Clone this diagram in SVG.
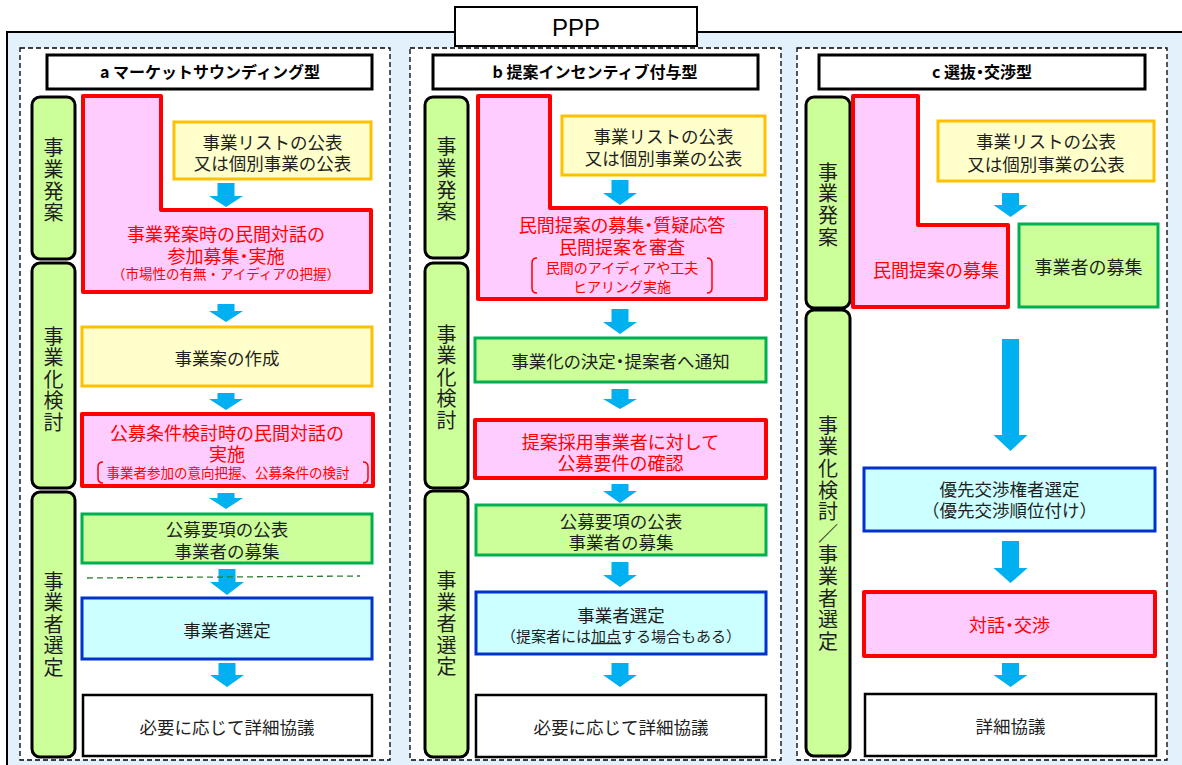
<svg xmlns="http://www.w3.org/2000/svg" width="1182" height="765" viewBox="0 0 1182 765">
<defs>
<style>
text{font-family:"Noto Sans CJK JP","Noto Sans CJK SC",sans-serif;text-anchor:middle;fill:#1f1f1f}
.t{font-size:17.5px}
.r{font-size:18px;fill:#ff0000}
.rs{font-size:13.5px;fill:#ff0000}
.rm{font-size:14px;fill:#ff0000}
.p{font-feature-settings:"palt"}
.ph{font-size:20px;writing-mode:vertical-rl;letter-spacing:1.6px}
.hd{font-size:16px;font-weight:700;fill:#000}
.panel{fill:#fff;stroke:#000;stroke-width:1.3;stroke-dasharray:5 3}
.phase{fill:#ccff99;stroke:#000;stroke-width:3}
.red{fill:#ffccff;stroke:#ff0000;stroke-width:4;stroke-linejoin:round}
.yel{fill:#ffffcc;stroke:#ffc000;stroke-width:3}
.grn{fill:#ccff99;stroke:#00b050;stroke-width:3}
.blu{fill:#ccffff;stroke:#0033cc;stroke-width:3}
.wht{fill:#fff;stroke:#000;stroke-width:2.5}
.hdr{fill:#fff;stroke:#000;stroke-width:3}
.brk{fill:none;stroke:#ff0000;stroke-width:1.5}
.arr{fill:#00b0f0}
</style>
</defs>
<rect x="7" y="32" width="1200" height="760" fill="#e2f1fc" stroke="#000" stroke-width="2"/>
<g id="ppp-title">
<rect x="455" y="7" width="242" height="39" fill="#fff" stroke="#000" stroke-width="2"/>
<text x="576" y="35.5" style="font-family:'Liberation Sans',Arial,sans-serif;font-size:24px;fill:#000">PPP</text>
</g>
<rect class="panel" x="20" y="48" width="370" height="712"/>
<rect class="panel" x="410" y="48" width="371" height="712"/>
<rect class="panel" x="797" y="48" width="370" height="712"/>

<g id="header-a"><rect class="hdr" x="47" y="55" width="325" height="34"/><text class="hd" x="210" y="78">a マーケットサウンディング型</text></g>
<g id="header-b"><rect class="hdr" x="433" y="55" width="325" height="34"/><text class="hd" x="595" y="78">b 提案インセンティブ付与型</text></g>
<g id="header-c"><rect class="hdr" x="819" y="55" width="326" height="34"/><text class="hd p" x="982" y="78">c 選抜・交渉型</text></g>

<!-- phase labels -->
<g id="phase-a1"><rect class="phase" x="32" y="97" width="43" height="162" rx="8"/>
<text class="ph" x="53.5" y="181">事業発案</text></g>
<g id="phase-a2"><rect class="phase" x="32" y="263" width="43" height="225" rx="8"/>
<text class="ph" x="53.5" y="380">事業化検討</text></g>
<g id="phase-a3"><rect class="phase" x="32" y="492" width="43" height="265" rx="8"/>
<text class="ph" x="53.5" y="625">事業者選定</text></g>

<g id="phase-b1"><rect class="phase" x="425" y="97" width="43" height="161" rx="8"/>
<text class="ph" x="446.5" y="180">事業発案</text></g>
<g id="phase-b2"><rect class="phase" x="425" y="263" width="43" height="225" rx="8"/>
<text class="ph" x="446.5" y="378">事業化検討</text></g>
<g id="phase-b3"><rect class="phase" x="425" y="491" width="43" height="266" rx="8"/>
<text class="ph" x="446.5" y="624.5">事業者選定</text></g>

<g id="phase-c1"><rect class="phase" x="806" y="97" width="44" height="211" rx="8"/>
<text class="ph" x="828" y="205.5">事業発案</text></g>
<g id="phase-c2"><rect class="phase" x="806" y="310" width="44" height="446" rx="8"/>
<text class="ph" x="828" y="534">事業化検討／事業者選定</text></g>

<!-- column a -->
<g id="a-dialog">
<path class="red" d="M83,96 H161 V210 H371 V292 H83 Z"/>
<text class="r" x="226" y="240.8">事業発案時の民間対話の</text>
<text class="r p" x="226" y="262.5">参加募集・実施</text>
<text class="rs" x="226" y="279">（市場性の有無・アイディアの把握）</text>
</g>
<g id="a-list"><rect class="yel" x="174" y="122" width="197" height="57"/>
<text class="t" x="272.5" y="148.5">事業リストの公表</text><text class="t" x="272.5" y="170">又は個別事業の公表</text></g>
<g id="a-plan"><rect class="yel" x="82" y="327" width="290" height="59"/>
<text class="t" x="227" y="364.5">事業案の作成</text></g>
<g id="a-cond"><rect class="red" x="82" y="414" width="291" height="72"/>
<text class="r" x="227" y="439.8">公募条件検討時の民間対話の</text>
<text class="r" x="227" y="460.8">実施</text>
<text class="rs" x="228" y="478">事業者参加の意向把握、公募条件の検討</text>
<path class="brk" d="M103,462 Q98,462 98,467 V478 Q98,483 103,483"/>
<path class="brk" d="M363,462 Q368,462 368,467 V478 Q368,483 363,483"/>
</g>
<g id="a-publish"><rect class="grn" x="82" y="514" width="290" height="49"/>
<text class="t" x="227" y="535.5">公募要項の公表</text><text class="t" x="227" y="557.5">事業者の募集</text></g>
<g id="a-select"><rect class="blu" x="82" y="598" width="290" height="61"/>
<text class="t" x="227" y="636.5">事業者選定</text></g>
<g id="a-detail"><rect class="wht" x="83" y="695" width="289" height="61"/>
<text class="t" x="227" y="733.5">必要に応じて詳細協議</text></g>

<!-- column b -->
<g id="b-proposal">
<path class="red" d="M478,96 H550 V208 H766 V299 H478 Z"/>
<text class="r p" x="622" y="231.8">民間提案の募集・質疑応答</text>
<text class="r" x="622" y="253.5">民間提案を審査</text>
<text class="rm" x="622" y="273.3">民間のアイディアや工夫</text>
<text class="rm" x="622" y="292">ヒアリング実施</text>
<path class="brk" d="M537,258 Q532,258 532,263 V288 Q532,293 537,293"/>
<path class="brk" d="M707,258 Q712,258 712,263 V288 Q712,293 707,293"/>
</g>
<g id="b-list"><rect class="yel" x="562" y="116" width="203" height="59"/>
<text class="t" x="663.5" y="143.3">事業リストの公表</text><text class="t" x="663.5" y="165">又は個別事業の公表</text></g>
<g id="b-decide"><rect class="grn" x="475" y="338" width="291" height="44"/>
<text class="t p" x="620.5" y="368.3">事業化の決定・提案者へ通知</text></g>
<g id="b-confirm"><rect class="red" x="475" y="420" width="291" height="58"/>
<text class="r" x="620.5" y="448.5">提案採用事業者に対して</text>
<text class="r" x="620.5" y="470">公募要件の確認</text></g>
<g id="b-publish"><rect class="grn" x="476" y="505" width="290" height="50"/>
<text class="t" x="621" y="527.5">公募要項の公表</text><text class="t" x="621" y="549.3">事業者の募集</text></g>
<g id="b-select"><rect class="blu" x="476" y="592" width="290" height="62"/>
<text class="t" x="621" y="621.5">事業者選定</text>
<text x="621" y="641.7" style="font-size:15px">（提案者には<tspan text-decoration="underline">加点</tspan>する場合もある）</text></g>
<g id="b-detail"><rect class="wht" x="476" y="695" width="290" height="62"/>
<text class="t" x="621" y="733.5">必要に応じて詳細協議</text></g>

<!-- column c -->
<g id="c-proposal">
<path class="red" d="M853,96 H918 V225 H1008 V307 H853 Z"/>
<text class="r" x="936" y="276.8">民間提案の募集</text></g>
<g id="c-list"><rect class="yel" x="938" y="121" width="216" height="60"/>
<text class="t" x="1046" y="148.3">事業リストの公表</text><text class="t" x="1046" y="170.5">又は個別事業の公表</text></g>
<g id="c-recruit"><rect class="grn" x="1019" y="224" width="139" height="83"/>
<text class="r" x="1088.5" y="273.5" style="fill:#1f1f1f">事業者の募集</text></g>
<g id="c-priority"><rect class="blu" x="864" y="468" width="291" height="63"/>
<text class="t" x="1009.5" y="495.5">優先交渉権者選定</text><text class="t" x="1009.5" y="516.5">（優先交渉順位付け）</text></g>
<g id="c-nego"><rect class="red" x="864" y="592" width="291" height="64"/>
<text class="r p" x="1009.5" y="631.8">対話・交渉</text></g>
<g id="c-detail"><rect class="wht" x="865" y="694" width="291" height="62"/>
<text class="t" x="1010.5" y="733.3">詳細協議</text></g>

<g id="connectors">
<path class="arr" d="M217.5,183 H234.5 V196 H243 L226,207 L209,196 H217.5 Z"/>
<path class="arr" d="M217.5,304 H234.5 V311 H243 L226,322 L209,311 H217.5 Z"/>
<path class="arr" d="M217.5,393 H234.5 V399 H243 L226,410 L209,399 H217.5 Z"/>
<path class="arr" d="M217.5,493 H234.5 V498 H243 L226,509 L209,498 H217.5 Z"/>
<path class="arr" d="M218.5,569 H235.5 V582 H244 L227,595 L210,582 H218.5 Z"/>
<path class="arr" d="M218.5,663 H235.5 V675 H244 L227,687 L210,675 H218.5 Z"/>

<path class="arr" d="M611.5,180 H628.5 V193 H637 L620,205 L603,193 H611.5 Z"/>
<path class="arr" d="M611.5,309 H628.5 V322 H637 L620,334 L603,322 H611.5 Z"/>
<path class="arr" d="M611.5,389 H628.5 V399 H637 L620,409 L603,399 H611.5 Z"/>
<path class="arr" d="M611.5,484 H628.5 V491 H637 L620,503 L603,491 H611.5 Z"/>
<path class="arr" d="M611.5,562 H628.5 V575 H637 L620,587 L603,575 H611.5 Z"/>
<path class="arr" d="M611.5,663 H628.5 V675 H637 L620,687 L603,675 H611.5 Z"/>

<path class="arr" d="M1002,193 H1019 V205 H1027.5 L1010.5,217 L993.5,205 H1002 Z"/>
<path class="arr" d="M1002,339 H1019 V435 H1027.5 L1010.5,451 L993.5,435 H1002 Z"/>
<path class="arr" d="M1002,541 H1019 V568 H1027.5 L1010.5,583 L993.5,568 H1002 Z"/>
<path class="arr" d="M1002,663 H1019 V675 H1027.5 L1010.5,687 L993.5,675 H1002 Z"/>

<line x1="87" y1="578" x2="360" y2="576" stroke="#2e7d32" stroke-width="1.3" stroke-dasharray="6 4"/>
</g>
</svg>
